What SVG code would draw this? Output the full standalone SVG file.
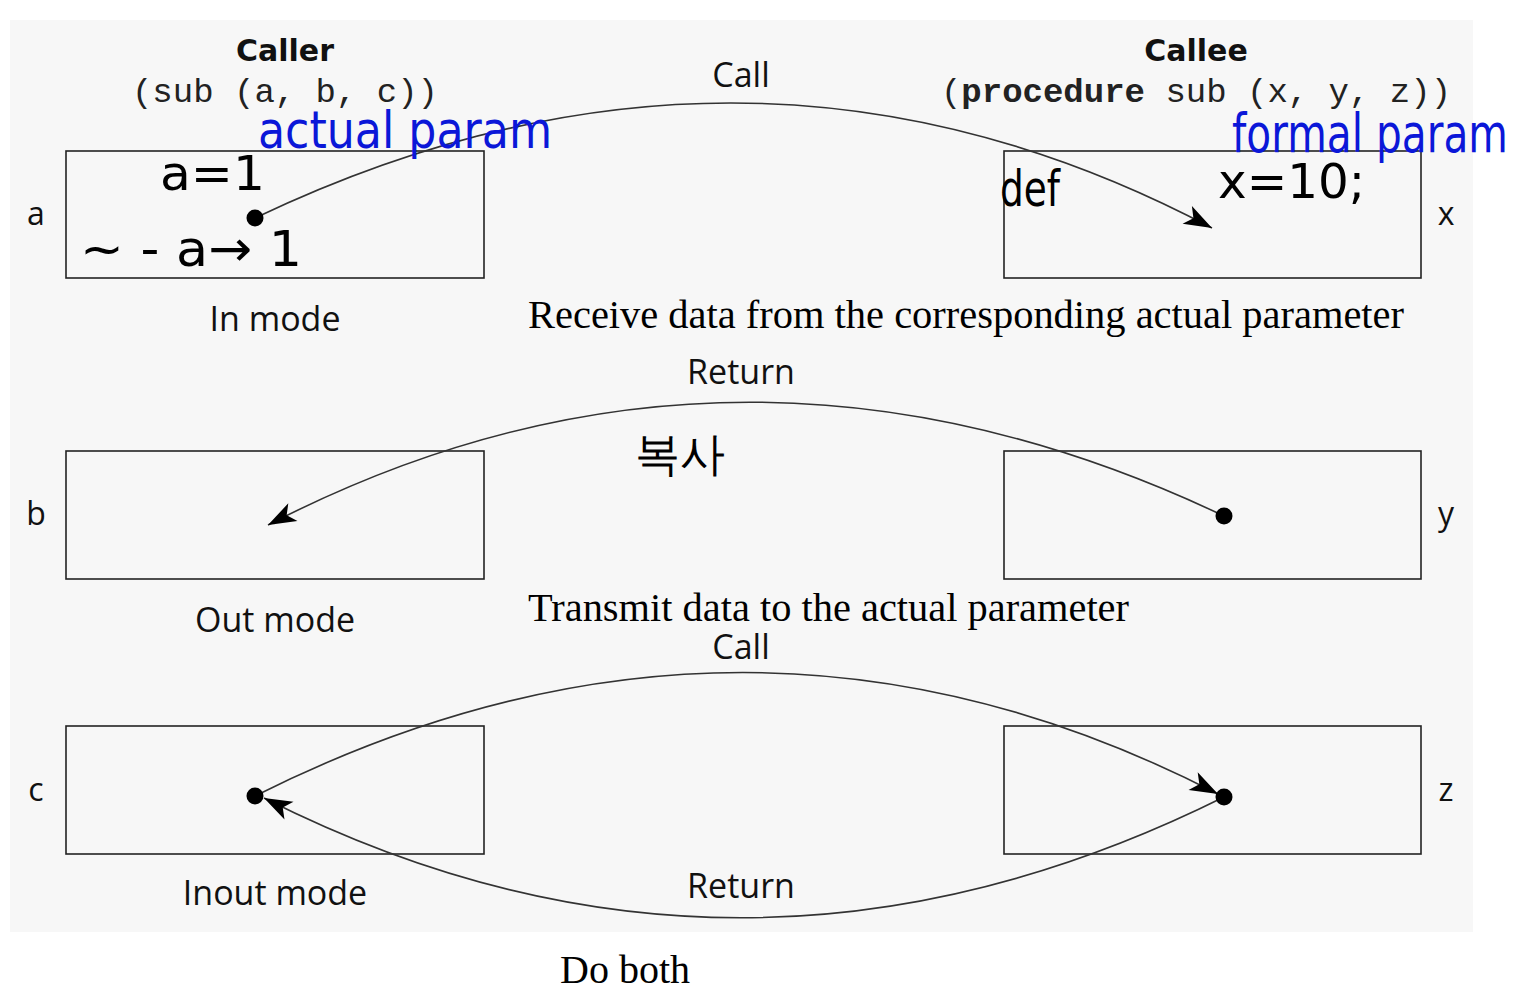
<svg xmlns="http://www.w3.org/2000/svg" width="1518" height="992" viewBox="0 0 1518 992">
<style>
.box{fill:none;stroke:#222;stroke-width:1.6}
.lbl{font-family:"Open Sans","Liberation Sans",sans-serif;font-size:34px;fill:#111;text-anchor:middle}
.var{font-family:"Open Sans","Liberation Sans",sans-serif;font-size:32px;fill:#111;text-anchor:middle}
.hdr{font-family:"DejaVu Sans","Liberation Sans",sans-serif;font-weight:bold;font-size:30px;fill:#111;text-anchor:middle}
.mono{font-family:"Liberation Mono","Courier New",monospace;font-size:34px;fill:#222;text-anchor:middle}
.ser{font-family:"Liberation Serif","Times New Roman",serif;font-size:40px;fill:#000}
.hand{font-family:"DejaVu Sans","Liberation Sans",sans-serif;fill:#000}
.blue{font-family:"DejaVu Sans","Liberation Sans",sans-serif;fill:#0b17d8}
.conn{fill:none;stroke:#333;stroke-width:1.6}
.dot{fill:#000}
</style>
<defs>
<marker id="arr" markerUnits="userSpaceOnUse" markerWidth="34" markerHeight="24" refX="30" refY="12" orient="auto">
<path d="M30,12 L2,2 L9,12 L2,22 Z" fill="#000"/>
</marker>
</defs>
<rect x="10" y="20" width="1463" height="912" fill="#f7f7f7"/>

<g id="headers">
<text class="hdr" x="285" y="61">Caller</text>
<text class="mono" x="285" y="102">(sub (a, b, c))</text>
<text class="hdr" x="1196" y="61">Callee</text>
<text class="mono" x="1196" y="102">(<tspan font-weight="bold">procedure</tspan> sub (x, y, z))</text>
</g>

<g id="node-a">
<rect class="box" x="66" y="151" width="418" height="127"/>
<text class="var" x="36" y="225">a</text>
<text class="lbl" x="275" y="331">In mode</text>
</g>
<g id="node-x">
<rect class="box" x="1004" y="151" width="417" height="127"/>
<text class="var" x="1446" y="225">x</text>
</g>
<g id="node-b">
<rect class="box" x="66" y="451" width="418" height="128"/>
<text class="var" x="36" y="525">b</text>
<text class="lbl" x="275" y="632">Out mode</text>
</g>
<g id="node-y">
<rect class="box" x="1004" y="451" width="417" height="128"/>
<text class="var" x="1446" y="525">y</text>
</g>
<g id="node-c">
<rect class="box" x="66" y="726" width="418" height="128"/>
<text class="var" x="36" y="801">c</text>
<text class="lbl" x="275" y="905">Inout mode</text>
</g>
<g id="node-z">
<rect class="box" x="1004" y="726" width="417" height="128"/>
<text class="var" x="1446" y="801">z</text>
</g>

<g id="connectors">
<path class="conn" d="M255,218 Q748,-17 1212,228" marker-end="url(#arr)"/>
<path class="conn" d="M1224,516 Q735,284 268,525" marker-end="url(#arr)"/>
<path class="conn" d="M255,796 Q745,550 1218,794" marker-end="url(#arr)"/>
<path class="conn" d="M1224,797 Q739,1038 264,798" marker-end="url(#arr)"/>
<circle class="dot" cx="255" cy="218" r="8.5"/>
<circle class="dot" cx="1224" cy="516" r="8.5"/>
<circle class="dot" cx="255" cy="796" r="8.5"/>
<circle class="dot" cx="1224" cy="797" r="8.5"/>
<text class="lbl" x="741" y="87">Call</text>
<text class="lbl" x="741" y="384">Return</text>
<text class="lbl" x="741" y="659">Call</text>
<text class="lbl" x="741" y="898">Return</text>
</g>

<g id="descriptions">
<text class="ser" x="528" y="328" textLength="876" lengthAdjust="spacingAndGlyphs">Receive data from the corresponding actual parameter</text>
<text class="ser" x="528" y="621" textLength="601" lengthAdjust="spacingAndGlyphs">Transmit data to the actual parameter</text>
<text class="ser" x="560" y="983" font-size="44" textLength="130" lengthAdjust="spacingAndGlyphs">Do both</text>
</g>

<g id="annotations">
<text class="blue" x="258" y="148" font-size="52" textLength="294" lengthAdjust="spacingAndGlyphs">actual param</text>
<text class="blue" x="1232" y="152" font-size="54" textLength="276" lengthAdjust="spacingAndGlyphs">formal param</text>
<text class="hand" x="160" y="190" font-size="48" textLength="105" lengthAdjust="spacingAndGlyphs">a=1</text>
<text class="hand" x="80" y="266" font-size="50" textLength="222" lengthAdjust="spacingAndGlyphs">~ - a→ 1</text>
<text class="hand" x="1000" y="206" font-size="50" textLength="60" lengthAdjust="spacingAndGlyphs">def</text>
<text class="hand" x="1218" y="198" font-size="48" textLength="147" lengthAdjust="spacingAndGlyphs">x=10;</text>
<text class="hand" x="635" y="470" font-size="46" font-family="'Noto Sans CJK KR',sans-serif" textLength="90" lengthAdjust="spacingAndGlyphs">복사</text>
</g>
</svg>
